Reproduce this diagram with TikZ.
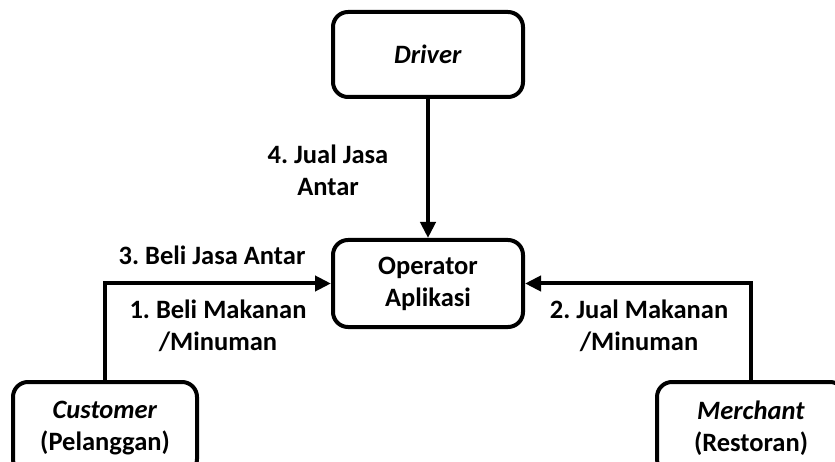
\documentclass[tikz,border=0pt]{standalone}
\usepackage{fontspec}
\setmainfont{Carlito}
\usetikzlibrary{arrows.meta}
\frenchspacing
\tikzset{
  actor/.style={draw=black, line width=4pt, rounded corners=15pt, fill=white,
    inner sep=0pt, align=center, font=\fontsize{26.5}{32}\selectfont\bfseries},
  flow/.style={line width=4pt, -{Triangle[length=16pt,width=15pt]}},
  lbl/.style={align=center, inner sep=0pt, font=\fontsize{26.5}{32}\selectfont\bfseries}
}
\begin{document}
\begin{tikzpicture}[x=1pt, y=-1pt]
\useasboundingbox (0,0) rectangle (835,462);
\clip (0,0) rectangle (835,462);
\fill[white] (0,0) rectangle (835,462);

% participants
\node[actor, minimum width=190pt, minimum height=85pt] (drv) at (428,54.5) {\textit{Driver}};
\node[actor, minimum width=190pt, minimum height=87pt] (op) at (428,283.5) {Operator\\Aplikasi};
\node[actor, minimum width=184pt, minimum height=92pt] (cust) at (105,428) {\textit{Customer}\\(Pelanggan)};
\node[actor, minimum width=188pt, minimum height=92pt] (merch) at (751,428) {\textit{Merchant}\\(Restoran)};

% transactions
\draw[flow] (drv.south) -- (op.north);
\draw[flow] (cust.north) |- (op.west);
\draw[flow] (merch.north) |- (op.east);

% labels
\node[lbl] (l4) at (328,170) {4. Jual Jasa\\Antar};
\node[lbl] (l3) at (212,255) {3. Beli Jasa Antar};
\node[lbl] (l1) at (218,326) {1. Beli Makanan\\/Minuman};
\node[lbl] (l2) at (639,326) {2. Jual Makanan\\/Minuman};
\end{tikzpicture}
\end{document}
